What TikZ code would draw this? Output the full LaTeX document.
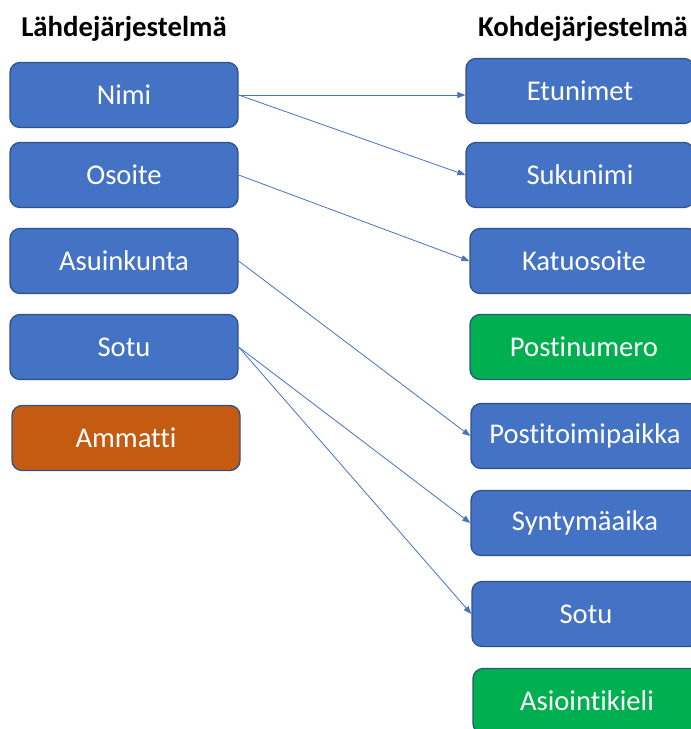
\documentclass[tikz,border=0pt]{standalone}
\usepackage{fontspec}
\setmainfont{Carlito}[Ligatures=NoCommon]
\usetikzlibrary{arrows.meta}
\definecolor{boxblue}{HTML}{4472C4}
\definecolor{boxedge}{HTML}{2F528F}
\definecolor{boxgreen}{HTML}{00B050}
\definecolor{boxorange}{HTML}{C55A11}
\definecolor{linkblue}{HTML}{4472C4}
\tikzset{
  field/.style={rounded corners=10pt, draw=boxedge, line width=1.3pt, fill=boxblue,
    minimum width=228pt, minimum height=65pt, inner sep=0pt,
    text=white, font=\fontsize{28.6}{32}\selectfont},
  newfield/.style={field, fill=boxgreen},
  dropfield/.style={field, fill=boxorange},
  heading/.style={font=\fontsize{28.8}{32}\selectfont\bfseries, inner sep=0pt},
  link/.style={draw=linkblue, line width=0.8pt, -{Triangle[length=8pt,width=6pt]}}
}
\begin{document}
\begin{tikzpicture}[x=1pt, y=-1pt]
\useasboundingbox (0,0) rectangle (691,729);
\begin{scope}
\clip (0,0) rectangle (691,729);
% headings
\node[heading] (srcTitle) at (124,28.5) {Lähdejärjestelmä};
\node[heading] (dstTitle) at (583,28.5) {Kohdejärjestelmä};
% source system fields
\node[field] (nimi) at (124,95) {Nimi};
\node[field] (osoite) at (124,175) {Osoite};
\node[field] (asuinkunta) at (124,261) {Asuinkunta};
\node[field] (sotuA) at (124,347) {Sotu};
\node[dropfield] (ammatti) at (126,438) {Ammatti};
% target system fields
\node[field] (etunimet) at (580,91) {Etunimet};
\node[field] (sukunimi) at (580,175) {Sukunimi};
\node[field] (katuosoite) at (584,261) {Katuosoite};
\node[newfield] (postinumero) at (584,347) {Postinumero};
\node[field] (postitoimipaikka) at (585,436) {Postitoimipaikka};
\node[field] (syntymaaika) at (585,523) {Syntymäaika};
\node[field] (sotuB) at (586,614) {Sotu};
\node[newfield] (asiointikieli) at (587,701) {Asiointikieli};
% mappings
\draw[link] (nimi.east) -- (nimi.east -| etunimet.west);
\draw[link] (nimi.east) -- (sukunimi.west);
\draw[link] (osoite.east) -- (katuosoite.west);
\draw[link] (asuinkunta.east) -- (postitoimipaikka.west);
\draw[link] (sotuA.east) -- (syntymaaika.west);
\draw[link] (sotuA.east) -- (sotuB.west);
\end{scope}
\end{tikzpicture}
\end{document}
